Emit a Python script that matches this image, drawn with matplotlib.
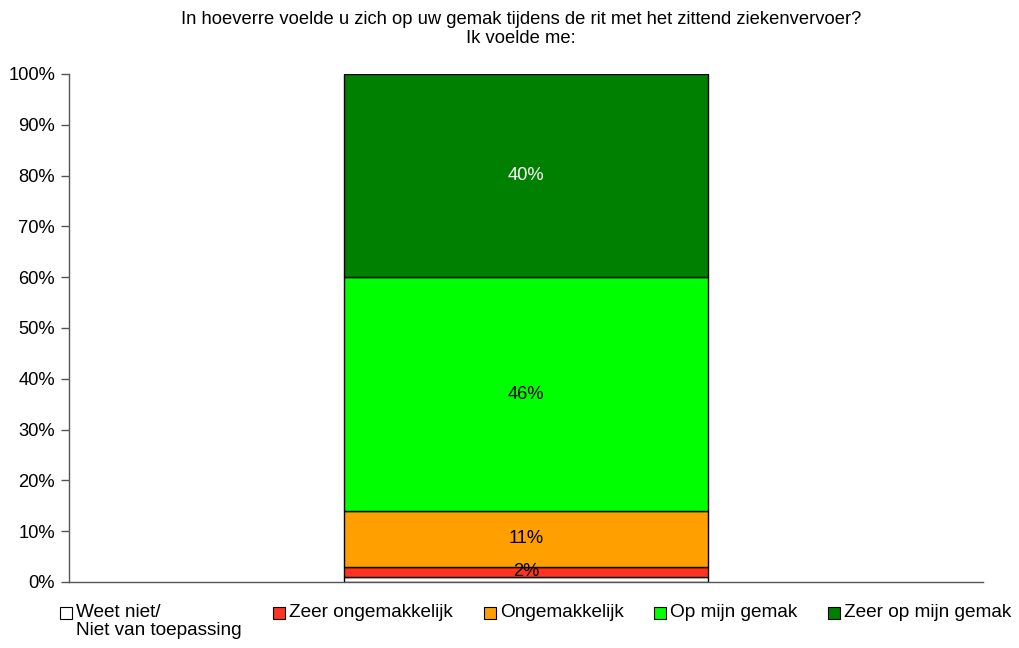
import matplotlib.pyplot as plt
from matplotlib.patches import Rectangle

plt.rcParams['font.family'] = ['Liberation Sans', 'DejaVu Sans']

# data
categories = ['Weet niet/\nNiet van toepassing', 'Zeer ongemakkelijk', 'Ongemakkelijk',
              'Op mijn gemak', 'Zeer op mijn gemak']
values = [1, 2, 11, 46, 40]
labels = ['', '2%', '11%', '46%', '40%']
colors = ['#FFFFFF', '#FF3322', '#FFA000', '#00FF00', '#008000']
label_colors = ['black', 'black', 'black', 'black', 'white']
title = 'In hoeverre voelde u zich op uw gemak tijdens de rit met het zittend ziekenvervoer?\nIk voelde me:'

W, H = 1020, 648
fig = plt.figure(figsize=(W / 100, H / 100), dpi=100)
ax = fig.add_axes([69 / W, 1 - 582 / H, (983 - 69) / W, (582 - 74) / H])

FS = 13.2

bottom = 0
for v, c, lab, lc in zip(values, colors, labels, label_colors):
    ax.bar(0, v, bottom=bottom, width=0.398, color=c, edgecolor='black', linewidth=1)
    if lab:
        ax.text(0, bottom + v / 2, lab, ha='center', va='center', fontsize=FS, color=lc)
    bottom += v

ax.set_xlim(-0.5, 0.5)
ax.set_ylim(0, 100)
ax.set_yticks(range(0, 101, 10))
ax.set_yticklabels([f'{t}%' for t in range(0, 101, 10)], fontsize=FS)
ax.set_xticks([])
ax.tick_params(axis='y', length=6, width=1, color='#555555', pad=4)
for s in ['top', 'right']:
    ax.spines[s].set_visible(False)
for s in ['left', 'bottom']:
    ax.spines[s].set_color('#555555')
    ax.spines[s].set_linewidth(1)

fig.text(521 / W, 1 - 29 / H, title, ha='center', va='center', fontsize=FS, linespacing=1.2)

# legend drawn by hand so the two-line label hangs below its key
legend_x = [60, 273, 484, 654, 828]
for x, c, name in zip(legend_x, colors, categories):
    fig.add_artist(Rectangle((x / W, 1 - 619 / H), 12 / W, 12 / H, transform=fig.transFigure,
                             facecolor=c, edgecolor='black', linewidth=0.8))
    fig.text((x + 16) / W, 1 - 604 / H, name, ha='left', va='top', fontsize=13.7, linespacing=1.1)

fig.savefig('out.png', dpi=100)
